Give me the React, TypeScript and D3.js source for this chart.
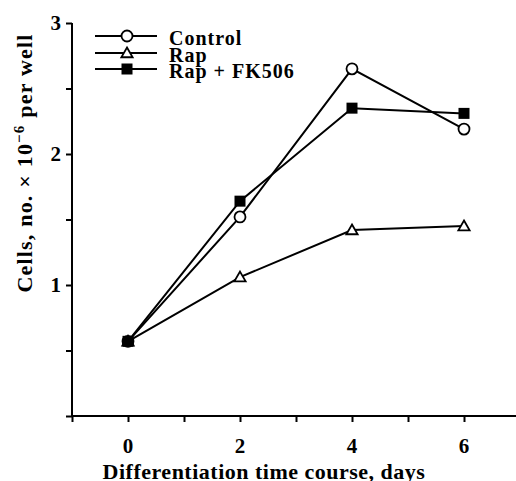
import { useEffect, useRef } from 'react';
import * as d3 from 'd3';

const days = [0, 2, 4, 6];
const control = [0.57, 1.52, 2.65, 2.19];
const rap = [0.57, 1.06, 1.42, 1.45];
const rapFk = [0.57, 1.64, 2.35, 2.31];
const seriesNames = ['Control', 'Rap', 'Rap + FK506'];
const xTicks = [0, 2, 4, 6];
const yTicks = [1, 2, 3];

const W = 516;
const H = 481;
const FONT = '"Liberation Serif", "Times New Roman", serif';

export default function App() {
  const svgRef = useRef<SVGSVGElement | null>(null);

  useEffect(() => {
    if (!svgRef.current) return;
    const svg = d3.select(svgRef.current);
    svg.selectAll('*').remove();

    const x = d3.scaleLinear().domain([-1, 7]).range([72, 520]);
    const y = d3.scaleLinear().domain([0, 3]).range([416, 23]);

    const g = svg.append('g');

    // axes
    const xAxis = g.append('g')
      .attr('transform', `translate(0,${y(0)})`)
      .call(d3.axisBottom(x).tickValues(d3.range(-1, 8)).tickSize(6).tickFormat(() => ''));
    xAxis.select('.domain').attr('stroke-width', 2).attr('d', `M${x(-1)},0H${x(7)}`);
    xAxis.selectAll('.tick line').attr('stroke-width', 2);

    xTicks.forEach((t) => {
      g.append('text')
        .attr('x', x(t))
        .attr('y', y(0) + 37)
        .attr('text-anchor', 'middle')
        .attr('font-family', FONT)
        .attr('font-weight', 'bold')
        .attr('font-size', 21)
        .text(t);
    });

    const yAxis = g.append('g')
      .attr('transform', `translate(${x(-1)},0)`)
      .call(d3.axisLeft(y).tickValues(d3.range(0, 3.01, 0.5)).tickSize(6).tickFormat(() => ''));
    yAxis.select('.domain').attr('stroke-width', 2).attr('d', `M0,${y(0)}V${y(3)}`);
    yAxis.selectAll('.tick line').attr('stroke-width', 2);

    yTicks.forEach((t) => {
      g.append('text')
        .attr('x', x(-1) - 11)
        .attr('y', y(t) + 7)
        .attr('text-anchor', 'end')
        .attr('font-family', FONT)
        .attr('font-weight', 'bold')
        .attr('font-size', 21)
        .text(t);
    });

    // axis titles
    g.append('text')
      .attr('x', 264)
      .attr('y', 479)
      .attr('text-anchor', 'middle')
      .attr('font-family', FONT)
      .attr('font-weight', 'bold')
      .attr('font-size', 22)
      .attr('letter-spacing', 0.5)
      .text('Differentiation time course, days');

    const yt = g.append('text')
      .attr('transform', 'translate(32,163) rotate(-90)')
      .attr('text-anchor', 'middle')
      .attr('font-family', FONT)
      .attr('font-weight', 'bold')
      .attr('font-size', 22)
      .attr('letter-spacing', 1.2);
    yt.append('tspan').text('Cells, no. × 10');
    yt.append('tspan').attr('dy', -8).attr('font-size', 15).text('−6');
    yt.append('tspan').attr('dy', 8).text(' per well');

    // series
    const line = d3.line<number>()
      .x((_, i) => x(days[i]))
      .y((d) => y(d));

    const data = [control, rap, rapFk];
    data.forEach((vals) => {
      g.append('path')
        .datum(vals)
        .attr('fill', 'none')
        .attr('stroke', '#000')
        .attr('stroke-width', 2)
        .attr('d', line);
    });

    const tri = d3.symbol().type(d3.symbolTriangle).size(55);

    const drawMarker = (sel: d3.Selection<SVGGElement, unknown, null, undefined>, k: number, cx: number, cy: number) => {
      if (k === 0) {
        sel.append('circle').attr('cx', cx).attr('cy', cy).attr('r', 5.5)
          .attr('fill', '#fff').attr('stroke', '#000').attr('stroke-width', 1.8);
      } else if (k === 1) {
        sel.append('path').attr('d', tri()).attr('transform', `translate(${cx},${cy + 1})`)
          .attr('fill', '#fff').attr('stroke', '#000').attr('stroke-width', 1.8);
      } else {
        sel.append('rect').attr('x', cx - 5.5).attr('y', cy - 5.5).attr('width', 11).attr('height', 11)
          .attr('fill', '#000');
      }
    };

    const markers = g.append('g');
    [rap, control, rapFk].forEach((vals) => {
      const k = data.indexOf(vals);
      vals.forEach((v, i) => drawMarker(markers, k, x(days[i]), y(v)));
    });

    // legend
    const legend = g.append('g');
    const rows = [36, 53, 69];
    seriesNames.forEach((name, k) => {
      legend.append('line')
        .attr('x1', 95).attr('x2', 157)
        .attr('y1', rows[k]).attr('y2', rows[k])
        .attr('stroke', '#000').attr('stroke-width', 2);
      drawMarker(legend, k, 127, rows[k]);
      legend.append('text')
        .attr('x', 169)
        .attr('y', rows[k] + 9)
        .attr('font-family', FONT)
        .attr('font-weight', 'bold')
        .attr('font-size', 20)
        .attr('letter-spacing', 1)
        .text(name);
    });
  }, []);

  return (
    <svg
      ref={svgRef}
      width={W}
      height={H}
      style={{ position: 'absolute', left: 0, top: 0, background: '#fff' }}
    />
  );
}
